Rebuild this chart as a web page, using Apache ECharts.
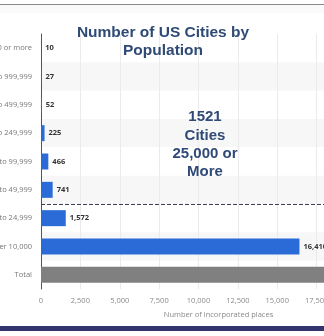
<!DOCTYPE html>
<html><head><meta charset="utf-8">
<script src="https://cdn.jsdelivr.net/npm/echarts@6/dist/echarts.min.js"></script>
<style>html,body{margin:0;padding:0;background:#fff}#c{width:324px;height:336px}</style>
</head><body><div id="c"></div>
<script>
const categories = ["1,000,000 or more","500,000 to 999,999","250,000 to 499,999","100,000 to 249,999","50,000 to 99,999","25,000 to 49,999","10,000 to 24,999","Under 10,000","Total"];
const values = [10,27,52,225,466,741,1572,16410,19503];
const xTicks = [0,2500,5000,7500,10000,12500,15000,17500,20000];
const dividerAt = 5.5;

const chart = echarts.init(document.getElementById('c'), null, {renderer:'canvas'});
const navy = '#2f4a76';
chart.setOption({
  animation:false,
  backgroundColor:'#fff',
  title:{
    text:'Number of US Cities by\nPopulation',
    left:158, top:19, textAlign:'center',
    textStyle:{fontFamily:'Liberation Sans', fontWeight:'bold', fontSize:15.5, lineHeight:18, color:navy}
  },
  grid:{left:41, top:34, width:315, height:255, containLabel:false, outerBoundsMode:'none'},
  xAxis:{
    type:'value', min:0, max:20000, interval:2500,
    axisLine:{show:false}, axisTick:{show:false},
    axisLabel:{fontFamily:'Open Sans', fontSize:7.5, color:'#8a8a8a', margin:8,
      formatter:v=>xTicks.includes(v)?v.toLocaleString('en-US'):''},
    splitLine:{lineStyle:{color:'#ebebeb', width:1}},
    name:'Number of incorporated places', nameLocation:'middle', nameGap:22,
    nameTextStyle:{fontFamily:'Open Sans', fontSize:7.5, color:'#8a8a8a', padding:[0,0,0,40]}
  },
  yAxis:[{
    type:'category', data:categories, inverse:true,
    axisLine:{show:true, lineStyle:{color:'#555', width:1}},
    axisTick:{show:false},
    axisLabel:{fontFamily:'Open Sans', fontSize:7.5, color:'#777', margin:9},
    splitArea:{show:true, areaStyle:{color:['#ffffff','#f7f7f7']}},
    splitLine:{show:false}
  },{
    type:'value', min:-0.5, max:8.5, inverse:true, show:false
  }],
  series:[{
    type:'bar', data:values.map((v,i)=>({value:v, itemStyle:{color: categories[i]==='Total' ? '#808080' : '#2b6bd8'}})),
    barWidth:16,
    label:{show:true, position:'right', distance:4, fontFamily:'Open Sans', fontSize:7.5, fontWeight:'bold', color:'#333',
      formatter:p=>p.value.toLocaleString('en-US')}
  },{
    type:'line', yAxisIndex:1, data:[],
    markLine:{silent:true, symbol:'none', label:{show:false},
      lineStyle:{color:'#3a3f52', type:[4,2], width:1},
      data:[{yAxis:dividerAt}]}
  }],
  graphic:[
    {type:'rect', shape:{x:0,y:4,width:324,height:1}, style:{fill:'#8a8a8a'}},
    {type:'rect', shape:{x:0,y:5,width:324,height:8}, style:{fill:'#fafafa'}, z:-1},
    {type:'rect', shape:{x:0,y:326,width:324,height:5}, style:{fill:'#33346c'}},
    {type:'text', x:205, y:108, z:10, style:{text:'1521\nCities\n25,000 or\nMore', align:'center', verticalAlign:'top',
      fontFamily:'Liberation Sans', fontWeight:'bold', fontSize:15, lineHeight:18.3, fill:navy}}
  ]
});
</script></body></html>
